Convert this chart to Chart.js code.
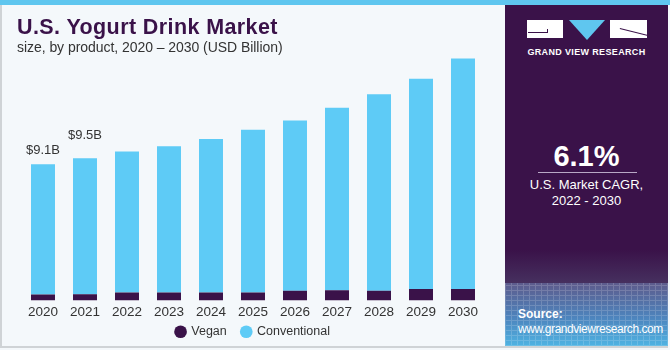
<!DOCTYPE html>
<html>
<head>
<meta charset="utf-8">
<script src="https://cdn.jsdelivr.net/npm/chart.js@4"></script>
<style>
  body { margin: 0; width: 670px; height: 350px; overflow: hidden; background: #f4f8fb; font-family: "Liberation Sans", Arial, sans-serif; position: relative; }
  .strip { position: absolute; left: 0; top: 0; width: 670px; height: 5px; background: #5fc6ef; }
  .frame { position: absolute; left: 0; top: 5px; width: 503px; height: 341px; border-left: 2px solid #cfd3d6; border-bottom: 2px solid #cfd3d6; }
  .title { position: absolute; left: 17px; top: 15px; font-size: 21.5px; font-weight: bold; color: #3a1249; letter-spacing: 0.4px; }
  .sub { position: absolute; left: 17px; top: 39px; font-size: 14px; color: #333; letter-spacing: -0.05px; }
  #wrap { position: absolute; left: 0; top: 0; width: 505px; height: 348px; }
  .side { position: absolute; left: 505px; top: 5px; width: 163px; height: 341px; background: #3a1249; border-bottom: 2px solid #cfd3d6; overflow: hidden; }
  .fade { position: absolute; left: 0; top: 245px; width: 163px; height: 33px; background: linear-gradient(#3a1249, #46305f); }
  .src { position: absolute; left: 0; top: 278px; width: 163px; height: 63px; background: linear-gradient(#5d5b8c, #4d84bd 55%, #4fb3e2); }
  .grid { position: absolute; left: 0; top: 278px; width: 163px; height: 63px; opacity: 0.16;
          background-image: repeating-linear-gradient(90deg, #fff 0 1px, transparent 1px 6px), repeating-linear-gradient(0deg, #fff 0 1px, transparent 1px 5px); }
  .src-t { position: absolute; left: 13px; top: 302px; color: #fff; font-size: 12px; line-height: 15px; letter-spacing: -0.45px; }
  .src-t b { letter-spacing: 0; }
  .big { position: absolute; left: 0; width: 163px; top: 135px; text-align: center; color: #fff; font-size: 29px; font-weight: bold; }
  .rule { position: absolute; left: 33px; top: 167px; width: 99px; height: 1px; background: #b9a8c6; }
  .cagr { position: absolute; left: 0; width: 163px; top: 172px; text-align: center; color: #fff; font-size: 13px; line-height: 16px; }
  .b1 { position: absolute; left: 22px; top: 15px; width: 36px; height: 18px; background: #fff; }
  .b1 i { position: absolute; left: 1px; top: 12px; width: 20px; height: 1px; background: #3a1249; }
  .b1 b { position: absolute; left: 20px; top: 9px; width: 1px; height: 4px; background: #3a1249; }
  .tri { position: absolute; left: 64px; top: 15px; width: 0; height: 0; border-left: 18px solid transparent; border-right: 18px solid transparent; border-top: 20px solid #5fc6ef; }
  .b3 { position: absolute; left: 105px; top: 15px; width: 37px; height: 18px; background: #fff; overflow: hidden; }
  .b3 i { position: absolute; left: 10px; top: 8px; width: 28px; height: 1px; background: #3a1249; transform: rotate(14deg); transform-origin: 0 0; }
  .gvr { position: absolute; left: 0; width: 163px; top: 42px; text-align: center; color: #fff; font-size: 9px; font-weight: bold; letter-spacing: 0.35px; }
</style>
</head>
<body>
<div class="strip"></div>
<div class="frame"></div>
<div id="wrap"><canvas id="chart"></canvas></div>
<div class="title">U.S. Yogurt Drink Market</div>
<div class="sub">size, by product, 2020 – 2030 (USD Billion)</div>
<div class="side">
  <div class="b1"><i></i><b></b></div>
  <div class="tri"></div>
  <div class="b3"><i></i></div>
  <div class="gvr">GRAND VIEW RESEARCH</div>
  <div class="big">6.1%</div>
  <div class="rule"></div>
  <div class="cagr">U.S. Market CAGR,<br>2022 - 2030</div>
  <div class="fade"></div>
  <div class="src"></div>
  <div class="grid"></div>
  <div class="src-t"><b>Source:</b><br>www.grandviewresearch.com</div>
</div>
<script>
const years = ['2020', '2021', '2022', '2023', '2024', '2025', '2026', '2027', '2028', '2029', '2030'];
const vegan = [0.4, 0.42, 0.53, 0.53, 0.53, 0.53, 0.65, 0.68, 0.65, 0.76, 0.76];
const conventional = [8.7, 9.08, 9.42, 9.77, 10.26, 10.88, 11.38, 12.2, 13.12, 14.05, 15.41];
const topLabels = ['$9.1B', '$9.5B'];

const labelPlugin = {
  id: 'topLabels',
  afterDatasetsDraw(chart) {
    const ctx = chart.ctx;
    const meta = chart.getDatasetMeta(1);
    const lift = [14, 23];
    ctx.save();
    ctx.font = '13px "Liberation Sans", Arial, sans-serif';
    ctx.fillStyle = '#333';
    ctx.textAlign = 'center';
    ctx.textBaseline = 'middle';
    topLabels.forEach((t, i) => {
      const bar = meta.data[i];
      ctx.fillText(t, bar.x, bar.y - lift[i]);
    });
    ctx.restore();
  }
};

new Chart(document.getElementById('chart'), {
  type: 'bar',
  data: {
    labels: years,
    datasets: [
      { label: 'Vegan', data: vegan, backgroundColor: '#3a1249' },
      { label: 'Conventional', data: conventional, backgroundColor: '#5ecbf6' }
    ]
  },
  options: {
    responsive: true,
    maintainAspectRatio: false,
    animation: false,
    barPercentage: 0.8,
    categoryPercentage: 0.714,
    layout: { padding: { left: 22, right: 21, top: 31, bottom: 0 } },
    scales: {
      x: {
        stacked: true,
        grid: { display: false, drawTicks: false },
        border: { display: false },
        // mirrored so the labels are not clipped when the legend box overlaps the axis box
        ticks: { mirror: true, padding: -20, color: '#333', font: { size: 13.5, family: '"Liberation Sans", Arial, sans-serif' } },
        afterFit(scale) { scale.height = 10; }
      },
      y: { stacked: true, display: false, min: 0, max: 18 }
    },
    plugins: {
      legend: {
        position: 'bottom',
        labels: { usePointStyle: true, pointStyle: 'circle', boxWidth: 9, boxHeight: 9, padding: 15, color: '#333',
                  font: { size: 12.5, family: '"Liberation Sans", Arial, sans-serif' } }
      },
      tooltip: { enabled: false }
    }
  },
  plugins: [labelPlugin]
});
</script>
</body>
</html>
